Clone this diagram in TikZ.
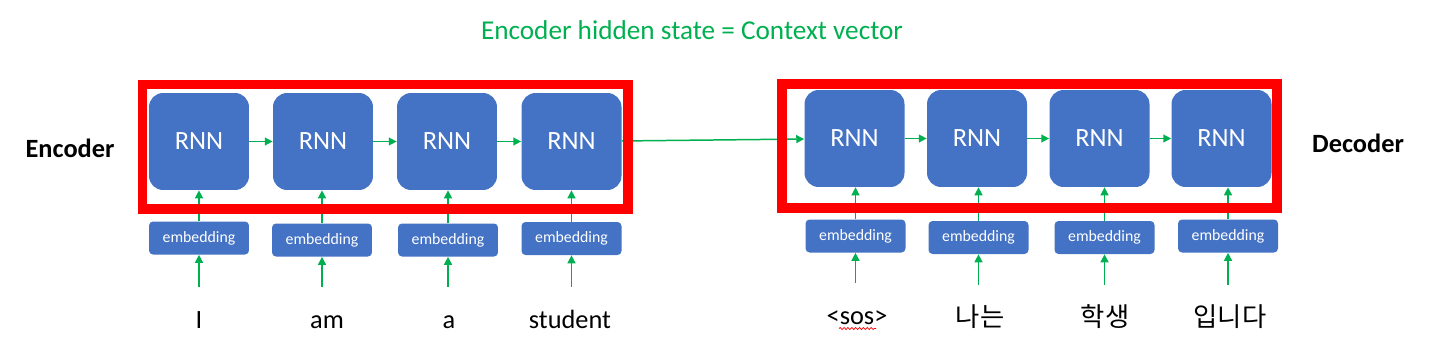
\documentclass[tikz,border=0pt]{standalone}
\usepackage{fontspec}
\setmainfont{Carlito}
\newfontfamily\kofont{Noto Sans CJK KR}
\usetikzlibrary{arrows.meta,decorations.pathmorphing}

\begin{document}
\begin{tikzpicture}[x=0.02cm,y=-0.02cm,>={Triangle[length=4.5pt,width=4.5pt]},
  rnn/.style={fill=rnnblue,rounded corners=8pt,minimum width=2cm,minimum height=1.94cm,
    inner sep=0pt,text=white,font=\fontsize{15}{18}\selectfont},
  emb/.style={fill=rnnblue,rounded corners=2.3pt,minimum width=2cm,minimum height=0.66cm,
    inner sep=0pt,text=white,font=\fontsize{9}{10}\selectfont},
  word/.style={anchor=base,font=\fontsize{15}{18}\selectfont,text height=0.75em,text depth=0.25em},
  link/.style={->,ctxgreen,line width=0.85pt},
  feed/.style={link,shorten <=0.44cm},
  frame/.style={draw=boxred,line width=5.4pt},
  lab/.style={font=\fontsize{15}{18}\selectfont\bfseries}]

  \definecolor{rnnblue}{RGB}{68,114,196}
  \definecolor{ctxgreen}{RGB}{0,176,80}
  \definecolor{boxred}{RGB}{255,0,0}

  \useasboundingbox (0,0) rectangle (1429,355);

  % ---- encoder ----
  \node[rnn] (r1) at (199,141.5) {RNN};
  \node[rnn] (r2) at (323,141.5) {RNN};
  \node[rnn] (r3) at (447,141.5) {RNN};
  \node[rnn] (r4) at (571.5,141.5) {RNN};
  \node[emb] (e1) at (199,238) {embedding};
  \node[emb] (e2) at (322,240) {embedding};
  \node[emb] (e3) at (448,240) {embedding};
  \node[emb] (e4) at (571.5,238.5) {embedding};
  \node[word] (w1) at (199,328) {I};
  \node[word] (w2) at (327,328) {am};
  \node[word] (w3) at (449,328) {a};
  \node[word] (w4) at (570,328) {student};

  % ---- decoder ----
  \node[rnn] (d1) at (854.5,138.5) {RNN};
  \node[rnn] (d2) at (977,138.5) {RNN};
  \node[rnn] (d3) at (1099.5,138.5) {RNN};
  \node[rnn] (d4) at (1221.5,138.5) {RNN};
  \node[emb] (f1) at (855.5,236) {embedding};
  \node[emb] (f2) at (978.5,237.5) {embedding};
  \node[emb] (f3) at (1104.5,237.5) {embedding};
  \node[emb] (f4) at (1228,236) {embedding};
  \node[word] (s1) at (857,324) {<sos>};
  \node[word] (s2) at (980,326) {\kofont 나는};
  \node[word] (s3) at (1105,326) {\kofont 학생};
  \node[word] (s4) at (1230,326) {\kofont 입니다};
  % spell-check squiggle under <sos>
  \draw[boxred,line width=0.4pt,decorate,decoration={snake,amplitude=0.6pt,segment length=2.2pt}]
    ([xshift=-0.36cm,yshift=-0.09cm]s1.base) -- ([xshift=0.38cm,yshift=-0.09cm]s1.base);

  % ---- connections ----
  \foreach \a/\b in {r1/r2,r2/r3,r3/r4,r4/d1,d1/d2,d2/d3,d3/d4}
    \draw[link] (\a) -- (\b);
  \foreach \i in {1,...,4} {
    \draw[link] (e\i.north) -- (e\i.north |- r\i.south);
    \draw[feed] (e\i.south |- w\i.north) -- (e\i.south);
    \draw[link] (f\i.north) -- (f\i.north |- d\i.south);
    \draw[feed] (f\i.south |- s\i.north) -- (f\i.south);
  }

  % ---- red frames ----
  \draw[frame] (142.5,84.5) rectangle (628,209);
  \draw[frame] (782,84) rectangle (1277,208);

  % labels and title
  \node[lab] (enc) at (70,148) {Encoder};
  \node[lab] (dec) at (1358,143) {Decoder};
  \node[text=ctxgreen,font=\fontsize{15.5}{19}\selectfont] (ctx) at (692,30)
    {Encoder hidden state = Context vector};
\end{tikzpicture}
\end{document}
